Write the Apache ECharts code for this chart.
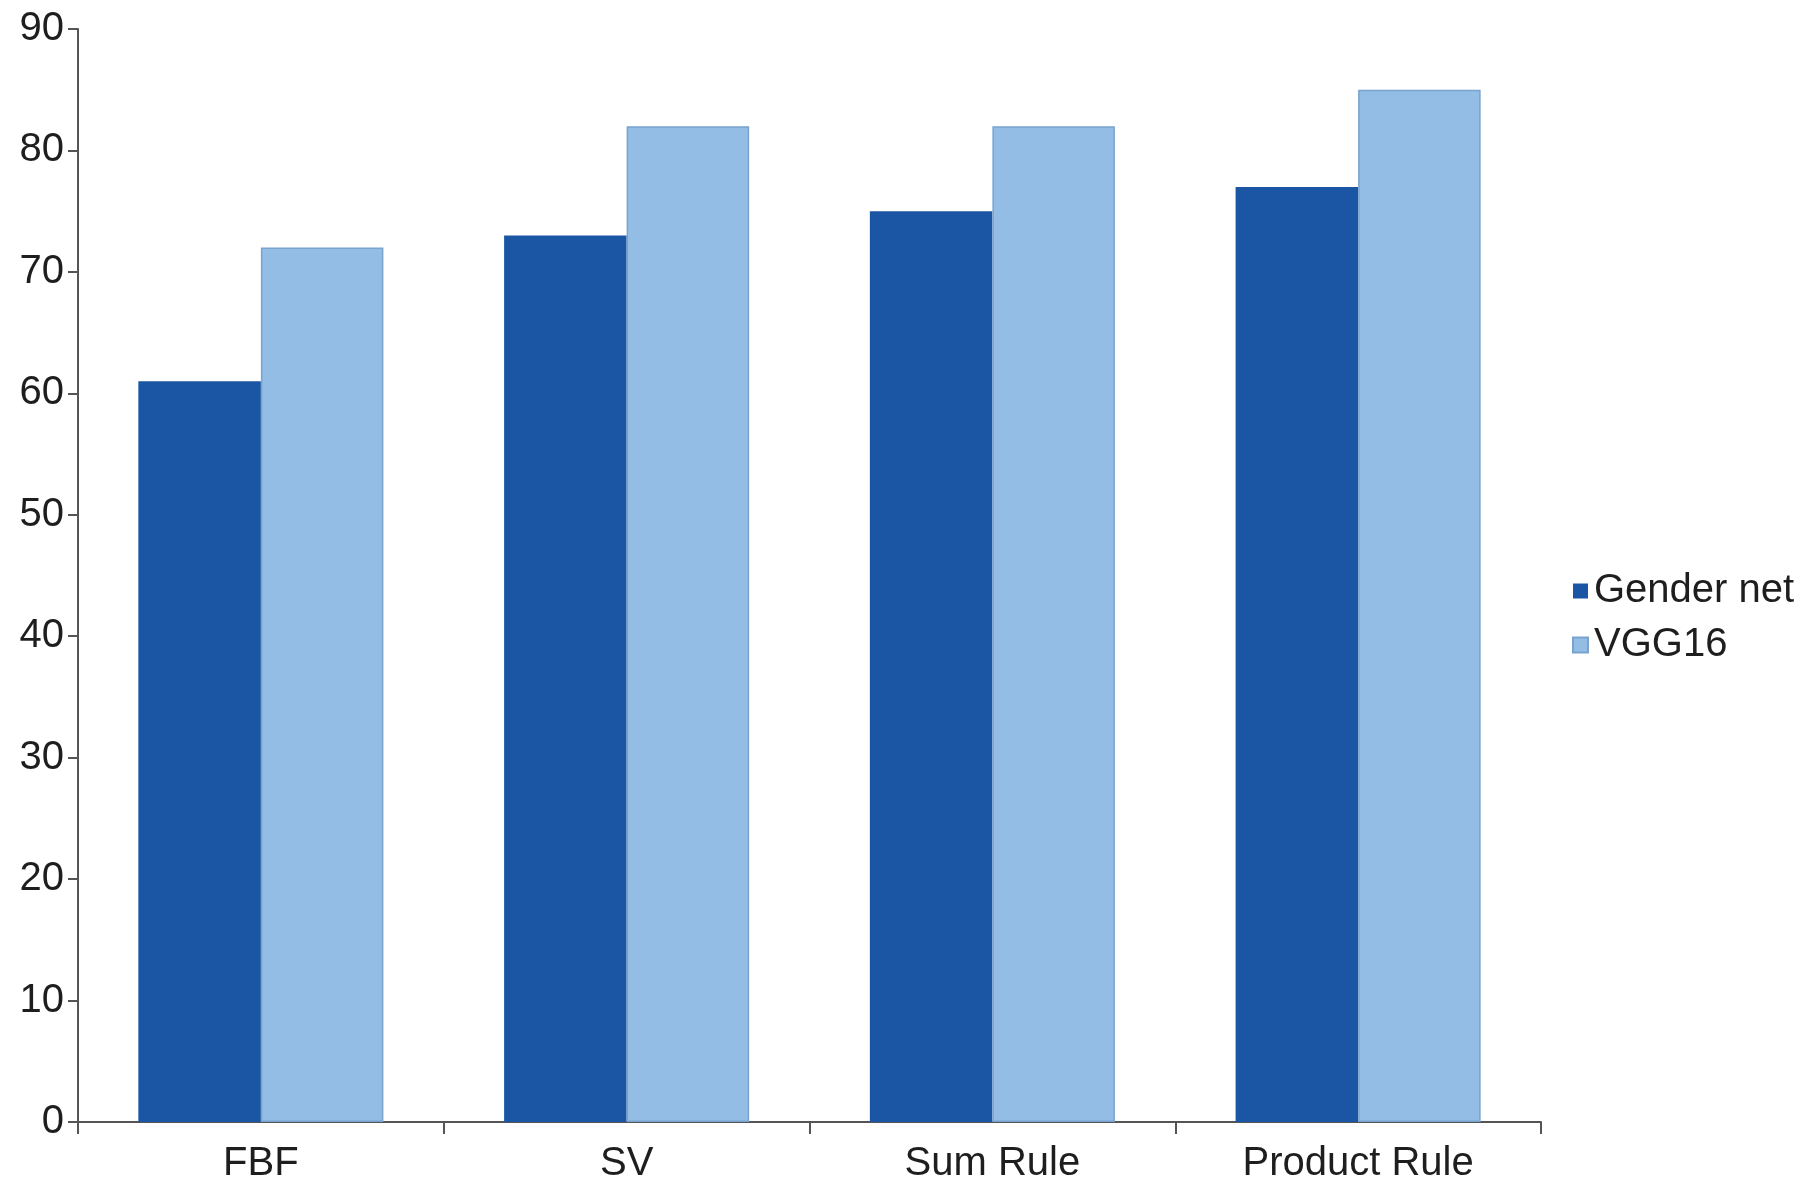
<!DOCTYPE html>
<html>
<head>
<meta charset="utf-8">
<script src="https://cdn.jsdelivr.net/npm/echarts@6/dist/echarts.min.js"></script>
<style>
  html, body { margin: 0; padding: 0; background: #fff; }
  #chart { width: 1803px; height: 1189px; }
</style>
</head>
<body>
<div id="chart"></div>
<script>
// Accuracy (%) per fusion method
const categories = ['FBF', 'SV', 'Sum Rule', 'Product Rule'];
const genderNet = [61, 73, 75, 77];
const vgg16 = [72, 82, 82, 85];
const yTicks = { min: 0, max: 90, interval: 10 };

const font = 'Liberation Sans, Arial, sans-serif';
const chart = echarts.init(document.getElementById('chart'));

chart.setOption({
  backgroundColor: '#ffffff',
  animation: false,
  grid: { left: 78, right: 262, top: 29, bottom: 67, containLabel: false },
  legend: {
    orient: 'vertical',
    left: 1567,
    top: 566,
    itemWidth: 15,
    itemHeight: 15,
    itemGap: 14,
    icon: 'rect',
    textStyle: { fontFamily: font, fontSize: 40, color: '#1e1e1e', padding: [0, 0, 0, 1] },
    data: ['Gender net', 'VGG16']
  },
  xAxis: {
    type: 'category',
    data: categories,
    axisLine: { lineStyle: { color: '#555', width: 2 } },
    axisTick: { show: true, length: 12, lineStyle: { color: '#555', width: 2 } },
    axisLabel: { fontFamily: font, fontSize: 40, color: '#1e1e1e', margin: 22 }
  },
  yAxis: {
    type: 'value',
    min: yTicks.min,
    max: yTicks.max,
    interval: yTicks.interval,
    splitLine: { show: false },
    axisLine: { show: true, lineStyle: { color: '#555', width: 2 } },
    axisTick: { show: true, inside: false, length: 10, lineStyle: { color: '#555', width: 2 } },
    axisLabel: { fontFamily: font, fontSize: 40, color: '#1e1e1e', margin: 14 }
  },
  series: [
    {
      name: 'Gender net',
      type: 'bar',
      data: genderNet,
      barGap: '0%',
      barCategoryGap: '33%',
      itemStyle: { color: '#1b56a4' }
    },
    {
      name: 'VGG16',
      type: 'bar',
      data: vgg16,
      itemStyle: { color: '#93bde4', borderColor: '#78a3cf', borderWidth: 1.5 }
    }
  ]
});
</script>
</body>
</html>
